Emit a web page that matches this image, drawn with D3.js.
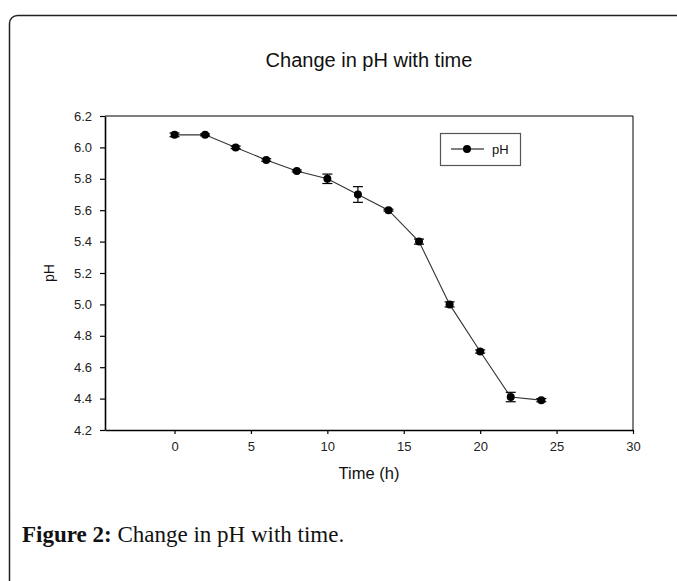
<!DOCTYPE html>
<html>
<head>
<meta charset="utf-8">
<script src="https://cdn.jsdelivr.net/npm/d3@7"></script>
<style>
  html, body { margin: 0; padding: 0; background: #fff; }
  svg { display: block; }
</style>
</head>
<body>
<svg id="chart" width="677" height="581"></svg>
<script>
// ---- data ----
const timeHours = [0, 2, 4, 6, 8, 10, 12, 14, 16, 18, 20, 22, 24];
const phValues  = [6.08, 6.08, 6.00, 5.92, 5.85, 5.80, 5.70, 5.60, 5.40, 5.00, 4.70, 4.41, 4.39];
const phErrors  = [0.012, 0.006, 0.008, 0.008, 0.006, 0.03, 0.05, 0.006, 0.016, 0.016, 0.01, 0.03, 0.01];
const xTicks = [0, 5, 10, 15, 20, 25, 30];
const yTicks = [4.2, 4.4, 4.6, 4.8, 5.0, 5.2, 5.4, 5.6, 5.8, 6.0, 6.2];
const chartTitle = "Change in pH with time";
const xTitle = "Time (h)";
const yTitle = "pH";
const legendLabel = "pH";
const captionBold = "Figure 2:";
const captionText = " Change in pH with time.";

const svg = d3.select("#chart");

// outer rounded frame (extends past the window edges)
svg.append("rect")
  .attr("x", 9.5).attr("y", 15.5)
  .attr("width", 720).attr("height", 620)
  .attr("rx", 8).attr("ry", 8)
  .attr("fill", "none").attr("stroke", "#222").attr("stroke-width", 1.5);

const plot = { left: 105, right: 633, top: 116, bottom: 430 };

const x = d3.scaleLinear().domain([-4.55, 30]).range([plot.left, plot.right]);
const y = d3.scaleLinear().domain([4.2, 6.2]).range([plot.bottom, plot.top]);

const font = "'Liberation Sans', Arial, sans-serif";

// title
svg.append("text")
  .attr("x", (plot.left + plot.right) / 2).attr("y", 67)
  .attr("text-anchor", "middle")
  .attr("font-family", font).attr("font-size", 20)
  .attr("fill", "#111")
  .text(chartTitle);

// top and right frame of plot
svg.append("path")
  .attr("d", `M${plot.left},${plot.top}H${plot.right}V${plot.bottom}`)
  .attr("fill", "none").attr("stroke", "#000").attr("stroke-width", 1);

// y axis
const yAxis = svg.append("g")
  .attr("transform", `translate(${plot.left},0)`)
  .call(d3.axisLeft(y).tickValues(yTicks).tickFormat(d3.format(".1f"))
    .tickSize(5).tickSizeOuter(0).tickPadding(8));
yAxis.selectAll("text").attr("font-family", font).attr("font-size", 13).attr("fill", "#222");
yAxis.select(".domain").attr("stroke", "#000").attr("stroke-width", 1.6);
yAxis.selectAll(".tick line").attr("stroke", "#000").attr("stroke-width", 1.2);

// x axis
const xAxis = svg.append("g")
  .attr("transform", `translate(0,${plot.bottom})`)
  .call(d3.axisBottom(x).tickValues(xTicks).tickFormat(d3.format("d"))
    .tickSize(4).tickSizeOuter(0).tickPadding(8));
xAxis.selectAll("text").attr("font-family", font).attr("font-size", 13).attr("fill", "#222");
xAxis.select(".domain").attr("stroke", "#000").attr("stroke-width", 1.6);
xAxis.selectAll(".tick line").attr("stroke", "#000").attr("stroke-width", 1.2);

// axis titles
svg.append("text")
  .attr("x", (plot.left + plot.right) / 2).attr("y", 479)
  .attr("text-anchor", "middle")
  .attr("font-family", font).attr("font-size", 16.5).attr("fill", "#111")
  .text(xTitle);

svg.append("text")
  .attr("transform", `translate(54,${(plot.top + plot.bottom) / 2}) rotate(-90)`)
  .attr("text-anchor", "middle")
  .attr("font-family", font).attr("font-size", 14).attr("fill", "#111")
  .text(yTitle);

// data
const data = timeHours.map((t, i) => ({ t, v: phValues[i], e: phErrors[i] }));

svg.append("path")
  .datum(data)
  .attr("d", d3.line().x(d => x(d.t)).y(d => y(d.v)))
  .attr("fill", "none").attr("stroke", "#333").attr("stroke-width", 1.1);

const eb = svg.append("g").attr("stroke", "#000").attr("stroke-width", 1.2);
data.forEach(d => {
  const cx = x(d.t), y1 = y(d.v - d.e), y2 = y(d.v + d.e);
  eb.append("line").attr("x1", cx).attr("x2", cx).attr("y1", y1).attr("y2", y2);
  eb.append("line").attr("x1", cx - 5).attr("x2", cx + 5).attr("y1", y1).attr("y2", y1);
  eb.append("line").attr("x1", cx - 5).attr("x2", cx + 5).attr("y1", y2).attr("y2", y2);
});

svg.append("g").selectAll("circle")
  .data(data).join("circle")
  .attr("cx", d => x(d.t)).attr("cy", d => y(d.v))
  .attr("r", 4).attr("fill", "#000");

// legend
const lg = svg.append("g");
lg.append("rect")
  .attr("x", 440.5).attr("y", 133.5).attr("width", 80).attr("height", 32)
  .attr("fill", "#fff").attr("stroke", "#555").attr("stroke-width", 1.2);
lg.append("line")
  .attr("x1", 451).attr("x2", 484).attr("y1", 149).attr("y2", 149)
  .attr("stroke", "#000").attr("stroke-width", 1.1);
lg.append("circle").attr("cx", 467).attr("cy", 149).attr("r", 4).attr("fill", "#000");
lg.append("text")
  .attr("x", 492).attr("y", 153.5)
  .attr("font-family", font).attr("font-size", 13).attr("fill", "#111")
  .text(legendLabel);

// caption
const cap = svg.append("text")
  .attr("x", 22).attr("y", 542)
  .attr("font-family", "'Liberation Serif', 'Times New Roman', serif")
  .attr("font-size", 23).attr("fill", "#111");
cap.append("tspan").attr("font-weight", "bold").text(captionBold);
cap.append("tspan").text(captionText);
</script>
</body>
</html>
